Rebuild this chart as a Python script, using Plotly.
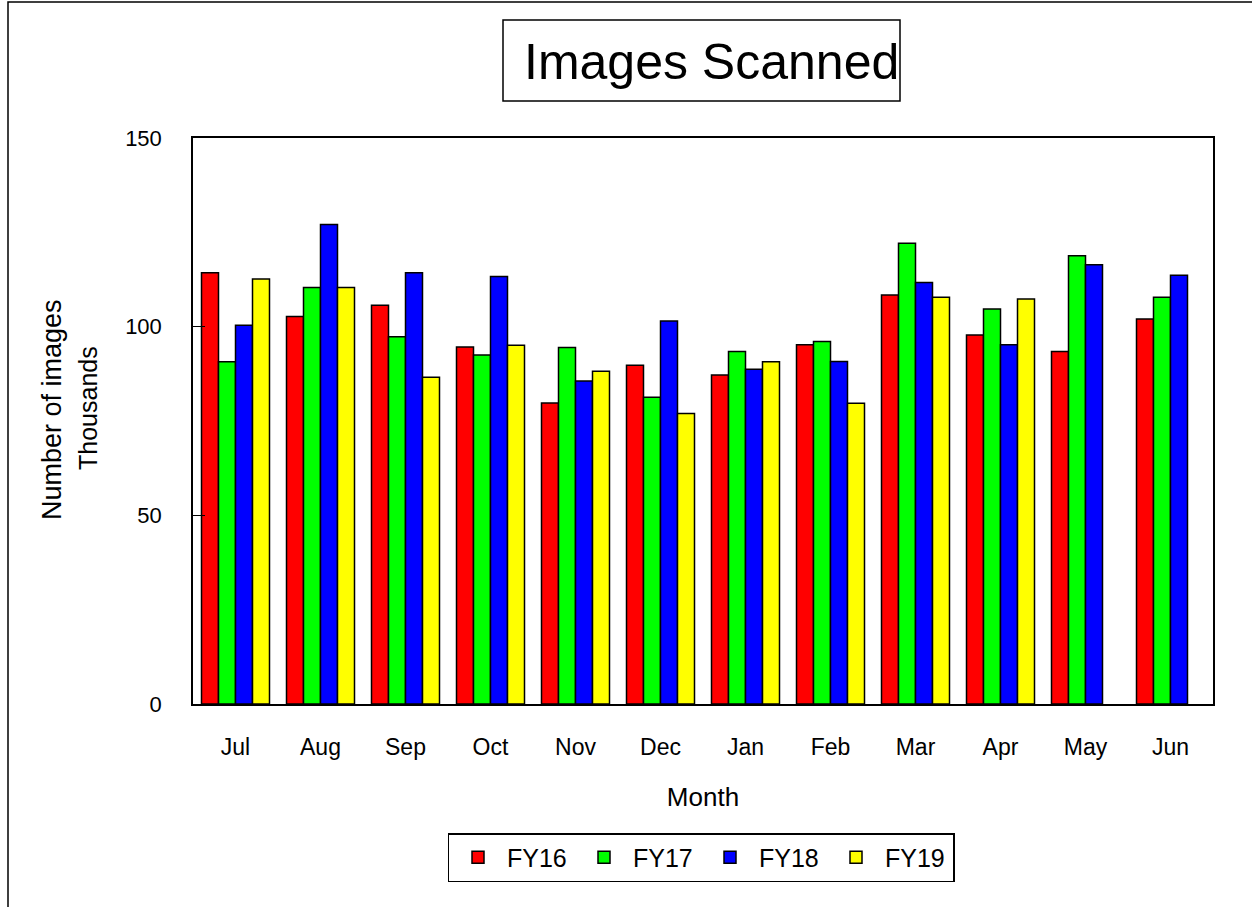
import plotly.graph_objects as go

months = ["Jul", "Aug", "Sep", "Oct", "Nov", "Dec", "Jan", "Feb", "Mar", "Apr", "May", "Jun"]
fy16 = [114.3, 102.7, 105.7, 94.6, 79.8, 89.8, 87.2, 95.2, 108.4, 97.8, 93.4, 102.0]
fy17 = [90.7, 110.4, 97.3, 92.5, 94.5, 81.3, 93.4, 96.1, 122.1, 104.7, 118.8, 107.8]
fy18 = [100.4, 127.1, 114.3, 113.3, 85.6, 101.5, 88.7, 90.8, 111.7, 95.2, 116.4, 113.6]
fy19 = [112.6, 110.4, 86.6, 95.1, 88.2, 77.0, 90.7, 79.7, 107.8, 107.3, None, None]

series = [("FY16", fy16, "#FF0000"), ("FY17", fy17, "#00FF00"),
          ("FY18", fy18, "#0000FF"), ("FY19", fy19, "#FFFF00")]

FONT = "Liberation Sans, Arial, sans-serif"

fig = go.Figure()
for name, vals, col in series:
    fig.add_trace(go.Bar(x=months, y=vals, name=name,
                         marker=dict(color=col, line=dict(color="black", width=1.5))))

W, H = 1252, 907
L, R, T, B = 193, 1213, 138, 704


def px(x):
    return (x - L) / (R - L)


def py(y):
    return (B - y) / (B - T)


fig.update_layout(
    width=W, height=H,
    margin=dict(l=L, r=W - R, t=T, b=H - B, pad=0),
    paper_bgcolor="white", plot_bgcolor="white",
    barmode="group", bargap=0.2, bargroupgap=0,
    font=dict(family=FONT, color="black", size=22),
    showlegend=True,
    legend=dict(orientation="h", x=px(701), xanchor="center", y=py(833), yanchor="top",
                bordercolor="black", borderwidth=1.5, font=dict(size=25),
                traceorder="normal", itemwidth=48, entrywidth=63),
    xaxis=dict(showline=True, linecolor="black", linewidth=1.5, mirror=True,
               showgrid=False, ticks="", ticklabelstandoff=22,
               tickfont=dict(size=23),
               title=dict(text="Month", font=dict(size=26), standoff=28)),
    yaxis=dict(range=[0, 150], tickvals=[0, 50, 100, 150], showline=True,
               linecolor="black", linewidth=1.5, mirror=True, showgrid=False,
               zeroline=False, ticks="inside", ticklen=12, tickcolor="black",
               ticklabelstandoff=25, tickfont=dict(size=22)),
    shapes=[
        dict(type="rect", xref="paper", yref="paper", x0=px(8), x1=px(1262), y0=py(917), y1=py(2),
             line=dict(color="black", width=1.5), layer="below"),
        dict(type="rect", xref="paper", yref="paper", x0=px(503), x1=px(900), y0=py(101), y1=py(20),
             line=dict(color="black", width=1.5)),
    ],
    annotations=[
        dict(text="Images Scanned", xref="paper", yref="paper", x=px(711), y=py(62),
             xanchor="center", yanchor="middle", showarrow=False, font=dict(size=50)),
        dict(text="Number of images", xref="paper", yref="paper", x=px(52), y=py(410),
             xanchor="center", yanchor="middle", showarrow=False, textangle=-90,
             font=dict(size=27)),
        dict(text="Thousands", xref="paper", yref="paper", x=px(88), y=py(408),
             xanchor="center", yanchor="middle", showarrow=False, textangle=-90,
             font=dict(size=25)),
    ],
)

fig.write_html("out.html", config={"displayModeBar": False},
               post_script="document.body.style.margin='0';")
